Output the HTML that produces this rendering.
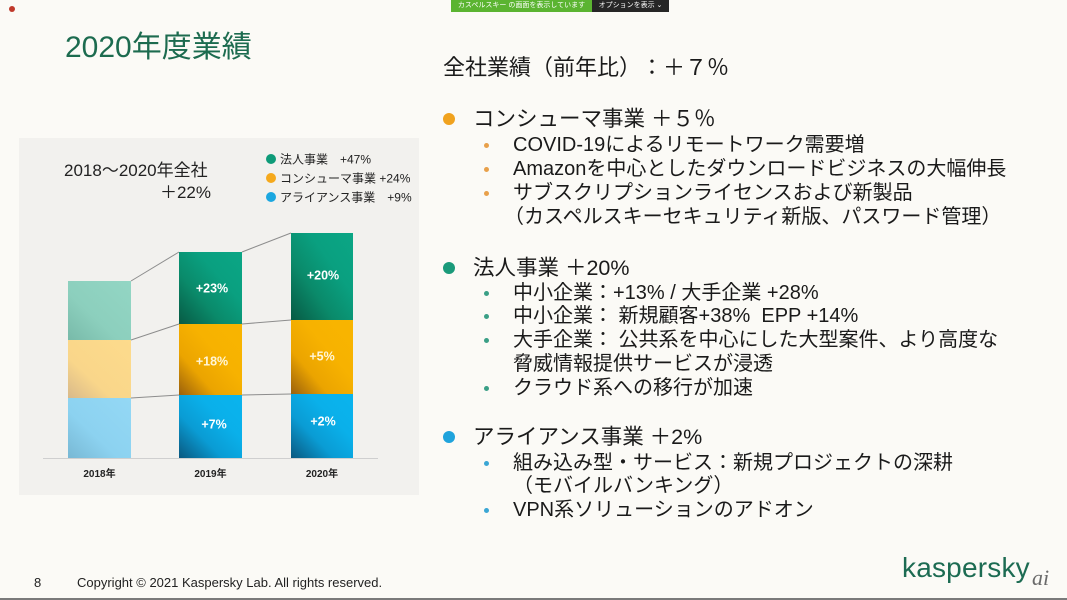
<!DOCTYPE html>
<html><head><meta charset="utf-8">
<style>
html,body{margin:0;padding:0;}
body{width:1067px;height:600px;position:relative;overflow:hidden;background:#fbfaf6;font-family:"Liberation Sans","Noto Sans CJK JP",sans-serif;color:#1a1a1a;text-spacing-trim:space-all;}
.t{position:absolute;white-space:nowrap;line-height:24px;}
.h{font-size:21.5px;left:473px;}
.s{font-size:20px;left:513px;}
.bb{position:absolute;width:12px;height:12px;border-radius:50%;left:443px;}
.sb{position:absolute;width:5px;height:5px;border-radius:50%;left:484px;}
</style></head><body>

<!-- top zoom bar -->
<div style="position:absolute;left:9px;top:6px;width:6px;height:6px;border-radius:50%;background:#c0392b;"></div>
<div style="position:absolute;left:451px;top:0;width:141px;height:12px;background:#5bb431;color:#fff;font-size:7px;line-height:12px;text-align:center;white-space:nowrap;">カスペルスキー の画面を表示しています</div>
<div style="position:absolute;left:592px;top:0;width:77px;height:12px;background:#262626;color:#fff;font-size:7px;line-height:12px;text-align:center;white-space:nowrap;">オプションを表示 ⌄</div>

<!-- title -->
<div class="t" style="left:65px;top:30px;font-size:30px;line-height:36px;color:#1c6b4f;">2020年度業績</div>

<!-- chart panel -->
<svg style="position:absolute;left:0;top:0" width="1067" height="600" xmlns="http://www.w3.org/2000/svg">
<defs>
<linearGradient id="gG" x1="0" y1="1" x2="1" y2="0">
<stop offset="0" stop-color="#075a44"/><stop offset="0.35" stop-color="#0a8a6a"/><stop offset="0.65" stop-color="#0aa080"/><stop offset="1" stop-color="#0ba685"/></linearGradient>
<linearGradient id="gO" x1="0" y1="1" x2="1" y2="0">
<stop offset="0" stop-color="#9a600c"/><stop offset="0.3" stop-color="#eba400"/><stop offset="0.6" stop-color="#f7b200"/><stop offset="1" stop-color="#f8b500"/></linearGradient>
<linearGradient id="gB" x1="0" y1="1" x2="1" y2="0">
<stop offset="0" stop-color="#0a587f"/><stop offset="0.35" stop-color="#0a9cd4"/><stop offset="0.65" stop-color="#0ab0ea"/><stop offset="1" stop-color="#0ab4ee"/></linearGradient>
<linearGradient id="fG" x1="0" y1="1" x2="1" y2="0">
<stop offset="0" stop-color="#78baa9"/><stop offset="0.4" stop-color="#8ccfbd"/><stop offset="1" stop-color="#93d6c4"/></linearGradient>
<linearGradient id="fO" x1="0" y1="1" x2="1" y2="0">
<stop offset="0" stop-color="#d8b98a"/><stop offset="0.35" stop-color="#f9d68a"/><stop offset="1" stop-color="#fddb8c"/></linearGradient>
<linearGradient id="fB" x1="0" y1="1" x2="1" y2="0">
<stop offset="0" stop-color="#78b8d4"/><stop offset="0.4" stop-color="#8cd2f0"/><stop offset="1" stop-color="#94d8f5"/></linearGradient>
</defs>
<rect x="19" y="138" width="400" height="357" fill="#f2f1ee"/>
<!-- axis -->
<line x1="43" y1="458.5" x2="378" y2="458.5" stroke="#cfcfcf" stroke-width="1"/>
<!-- connectors -->
<g stroke="#8d8d8d" stroke-width="1" fill="none">
<line x1="131" y1="281" x2="179" y2="252"/><line x1="242" y1="252" x2="291" y2="233"/>
<line x1="131" y1="340" x2="179" y2="324"/><line x1="242" y1="324" x2="291" y2="320"/>
<line x1="131" y1="398" x2="179" y2="395"/><line x1="242" y1="395" x2="291" y2="394"/>
</g>
<!-- 2018 -->
<rect x="68" y="281" width="63" height="59" fill="url(#fG)"/>
<rect x="68" y="340" width="63" height="58" fill="url(#fO)"/>
<rect x="68" y="398" width="63" height="60" fill="url(#fB)"/>
<!-- 2019 -->
<rect x="179" y="252" width="63" height="72" fill="url(#gG)"/>
<rect x="179" y="324" width="63" height="71" fill="url(#gO)"/>
<rect x="179" y="395" width="63" height="63" fill="url(#gB)"/>
<!-- 2020 -->
<rect x="291" y="233" width="62" height="87" fill="url(#gG)"/>
<rect x="291" y="320" width="62" height="74" fill="url(#gO)"/>
<rect x="291" y="394" width="62" height="64" fill="url(#gB)"/>
<g font-family="Liberation Sans, sans-serif" font-weight="bold" font-size="12.5" fill="#fff" text-anchor="middle">
<text x="212" y="292.5">+23%</text>
<text x="323" y="279.5">+20%</text>
<text x="212" y="365.5" fill="#fff6d8">+18%</text>
<text x="322" y="360.5" fill="#fff6d8">+5%</text>
<text x="214" y="428.5">+7%</text>
<text x="323" y="425.5">+2%</text>
</g>
<g font-family="Liberation Sans, Noto Sans CJK JP, sans-serif" font-weight="bold" font-size="10" fill="#222" text-anchor="middle">
<text x="99.5" y="477">2018年</text>
<text x="210.5" y="477">2019年</text>
<text x="322" y="477">2020年</text>
</g>
<g font-family="Liberation Sans, Noto Sans CJK JP, sans-serif" font-size="17" fill="#222">
<text x="64" y="176">2018～2020年全社</text>
<text x="211" y="198" text-anchor="end">＋22%</text>
</g>
<circle cx="271" cy="159" r="5" fill="#0e9b78"/>
<circle cx="271" cy="178" r="5" fill="#f5a91c"/>
<circle cx="271" cy="197" r="5" fill="#1ba7e0"/>
<g font-family="Liberation Sans, Noto Sans CJK JP, sans-serif" font-size="12" fill="#222">
<text x="280" y="163.5">法人事業　+47%</text>
<text x="280" y="182.5">コンシューマ事業 +24%</text>
<text x="280" y="201.5">アライアンス事業　+9%</text>
</g>
<!-- bottom edge -->
<rect x="0" y="598" width="1067" height="2" fill="#7a7a7a"/>
</svg>

<!-- right text -->
<div class="t" style="left:443px;top:56px;font-size:22px;">全社業績（前年比）：＋７％</div>

<div class="bb" style="top:113px;background:#f0a21e;"></div>
<div class="t h" style="top:107px;">コンシューマ事業 ＋５％</div>
<div class="sb" style="top:143px;background:#e8a04a;"></div>
<div class="t s" style="top:133px;">COVID-19によるリモートワーク需要増</div>
<div class="sb" style="top:167px;background:#e8a04a;"></div>
<div class="t s" style="top:157px;">Amazonを中心としたダウンロードビジネスの大幅伸長</div>
<div class="sb" style="top:191px;background:#e8a04a;"></div>
<div class="t s" style="top:181px;">サブスクリプションライセンスおよび新製品</div>
<div class="t s" style="top:205px;left:504px;">（カスペルスキーセキュリティ新版、パスワード管理）</div>

<div class="bb" style="top:262px;background:#1a9a7a;"></div>
<div class="t h" style="top:256px;">法人事業 ＋20%</div>
<div class="sb" style="top:291px;background:#3a9f86;"></div>
<div class="t s" style="top:281px;">中小企業：+13% / 大手企業 +28%</div>
<div class="sb" style="top:314px;background:#3a9f86;"></div>
<div class="t s" style="top:304px;">中小企業： 新規顧客+38%&nbsp;&nbsp;EPP +14%</div>
<div class="sb" style="top:338px;background:#3a9f86;"></div>
<div class="t s" style="top:328px;">大手企業： 公共系を中心にした大型案件、より高度な</div>
<div class="t s" style="top:352px;">脅威情報提供サービスが浸透</div>
<div class="sb" style="top:386px;background:#3a9f86;"></div>
<div class="t s" style="top:376px;">クラウド系への移行が加速</div>

<div class="bb" style="top:431px;background:#1fa3dc;"></div>
<div class="t h" style="top:425px;">アライアンス事業 ＋2%</div>
<div class="sb" style="top:461px;background:#3aa6d4;"></div>
<div class="t s" style="top:451px;">組み込み型・サービス：新規プロジェクトの深耕</div>
<div class="t s" style="top:474px;">（モバイルバンキング）</div>
<div class="sb" style="top:508px;background:#3aa6d4;"></div>
<div class="t s" style="top:498px;">VPN系ソリューションのアドオン</div>

<!-- footer -->
<div class="t" style="left:34px;top:574px;font-size:13px;line-height:18px;color:#222;">8</div>
<div class="t" style="left:77px;top:574px;font-size:13px;line-height:18px;color:#222;">Copyright © 2021 Kaspersky Lab. All rights reserved.</div>
<div class="t" style="left:902px;top:552px;font-size:28px;line-height:32px;color:#1c6b52;letter-spacing:0.2px;">kaspersky</div>
<div class="t" style="left:1032px;top:566px;font-size:22px;line-height:24px;color:#6a6a6a;font-style:italic;font-family:'Liberation Serif',serif;">ai</div>
</body></html>
